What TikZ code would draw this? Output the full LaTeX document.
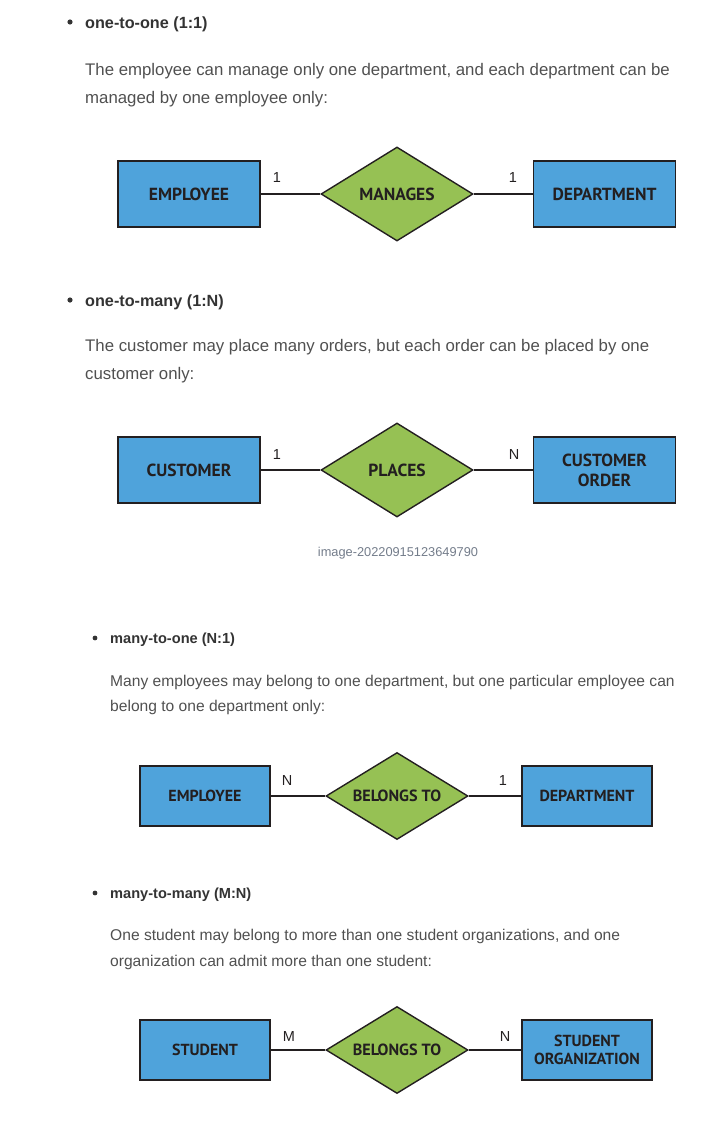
\documentclass[tikz,border=0pt]{standalone}
\usepackage{fontspec}
\setmainfont{Liberation Sans}
\newfontfamily\boxfont{PT Sans}
\usetikzlibrary{shapes.geometric}

\definecolor{entblue}{RGB}{79,163,219}
\definecolor{relgreen}{RGB}{150,193,84}
\definecolor{bodygray}{RGB}{80,80,80}
\definecolor{headgray}{RGB}{51,51,51}
\definecolor{capgray}{RGB}{115,124,138}
\definecolor{inkdark}{RGB}{35,31,32}

\tikzset{
  head/.style={anchor=base west, inner sep=0pt, text=headgray, font=\bfseries\fontsize{16.2}{18}\selectfont},
  body/.style={anchor=base west, inner sep=0pt, text=bodygray, font=\fontsize{16.8}{18}\selectfont},
  smallhead/.style={head, font=\bfseries\fontsize{14.6}{16}\selectfont},
  smallbody/.style={body, font=\fontsize{15.6}{17}\selectfont},
  entity/.style={draw=inkdark, line width=1.4pt, fill=entblue, minimum width=142pt, minimum height=66pt,
                 align=center, text=inkdark, font=\boxfont\bfseries\fontsize{17.5}{20}\selectfont},
  smallentity/.style={entity, minimum width=130pt, minimum height=60pt, font=\boxfont\bfseries\fontsize{16}{18.5}\selectfont},
  relation/.style={diamond, draw=inkdark, line width=1.4pt, fill=relgreen, inner sep=0pt, aspect=1.62,
                   minimum width=152pt, minimum height=94pt, text=inkdark, font=\boxfont\bfseries\fontsize{17.5}{20}\selectfont},
  smallrelation/.style={relation, minimum width=142pt, minimum height=87pt, font=\boxfont\bfseries\fontsize{16.2}{18}\selectfont},
  card/.style={inner sep=0pt, text=inkdark, font=\fontsize{14.5}{16}\selectfont},
  link/.style={draw=inkdark, line width=1.2pt}
}

\begin{document}
\begin{tikzpicture}[x=1pt, y=-1pt]
  \useasboundingbox (0,0) rectangle (728,1122);

  % one-to-one
  \fill[headgray] (70,22) circle (2.6pt);
  \node[head] (h1) at (85,28) {one-to-one (1:1)};
  \node[body] (t1a) at (85,75) {The employee can manage only one department, and each department can be};
  \node[body] (t1b) at (85,103) {managed by one employee only:};
  \node[entity] (emp1) at (189,194) {EMPLOYEE};
  \node[relation] (mng) at (397,194) {MANAGES};
  \node[entity] (dep1) at (604.5,194) {DEPARTMENT};
  \draw[link] (emp1) -- (mng) (mng) -- (dep1);
  \node[card] (c1l) at (277,178) {1};
  \node[card] (c1r) at (513,178) {1};

  % one-to-many
  \fill[headgray] (70,300) circle (2.6pt);
  \node[head] (h2) at (85,306) {one-to-many (1:N)};
  \node[body] (t2a) at (85,351) {The customer may place many orders, but each order can be placed by one};
  \node[body] (t2b) at (85,379) {customer only:};
  \node[entity] (cus) at (189,470) {CUSTOMER};
  \node[relation] (plc) at (397,470) {PLACES};
  \node[entity] (ord) at (604.5,470) {CUSTOMER\\ORDER};
  \draw[link] (cus) -- (plc) (plc) -- (ord);
  \node[card] (c2l) at (277,455) {1};
  \node[card] (c2r) at (514,455) {N};
  \node[text=capgray, font=\fontsize{12.8}{14}\selectfont] (cap) at (398,553) {image-20220915123649790};

  % many-to-one
  \fill[headgray] (95,638) circle (2.4pt);
  \node[smallhead] (h3) at (110,643) {many-to-one (N:1)};
  \node[smallbody] (t3a) at (110,686) {Many employees may belong to one department, but one particular employee can};
  \node[smallbody] (t3b) at (110,711) {belong to one department only:};
  \node[smallentity] (emp3) at (205,796) {EMPLOYEE};
  \node[smallrelation] (blg3) at (397,796) {BELONGS TO};
  \node[smallentity] (dep3) at (587,796) {DEPARTMENT};
  \draw[link] (emp3) -- (blg3) (blg3) -- (dep3);
  \node[card] (c3l) at (287,781) {N};
  \node[card] (c3r) at (503,781) {1};

  % many-to-many
  \fill[headgray] (95,893) circle (2.4pt);
  \node[smallhead] (h4) at (110,898) {many-to-many (M:N)};
  \node[smallbody] (t4a) at (110,940) {One student may belong to more than one student organizations, and one};
  \node[smallbody] (t4b) at (110,966) {organization can admit more than one student:};
  \node[smallentity] (stu) at (205,1050) {STUDENT};
  \node[smallrelation] (blg4) at (397,1050) {BELONGS TO};
  \node[smallentity] (org) at (587,1050) {STUDENT\\ORGANIZATION};
  \draw[link] (stu) -- (blg4) (blg4) -- (org);
  \node[card] (c4l) at (289,1036) {M};
  \node[card] (c4r) at (505,1036) {N};
\end{tikzpicture}
\end{document}
